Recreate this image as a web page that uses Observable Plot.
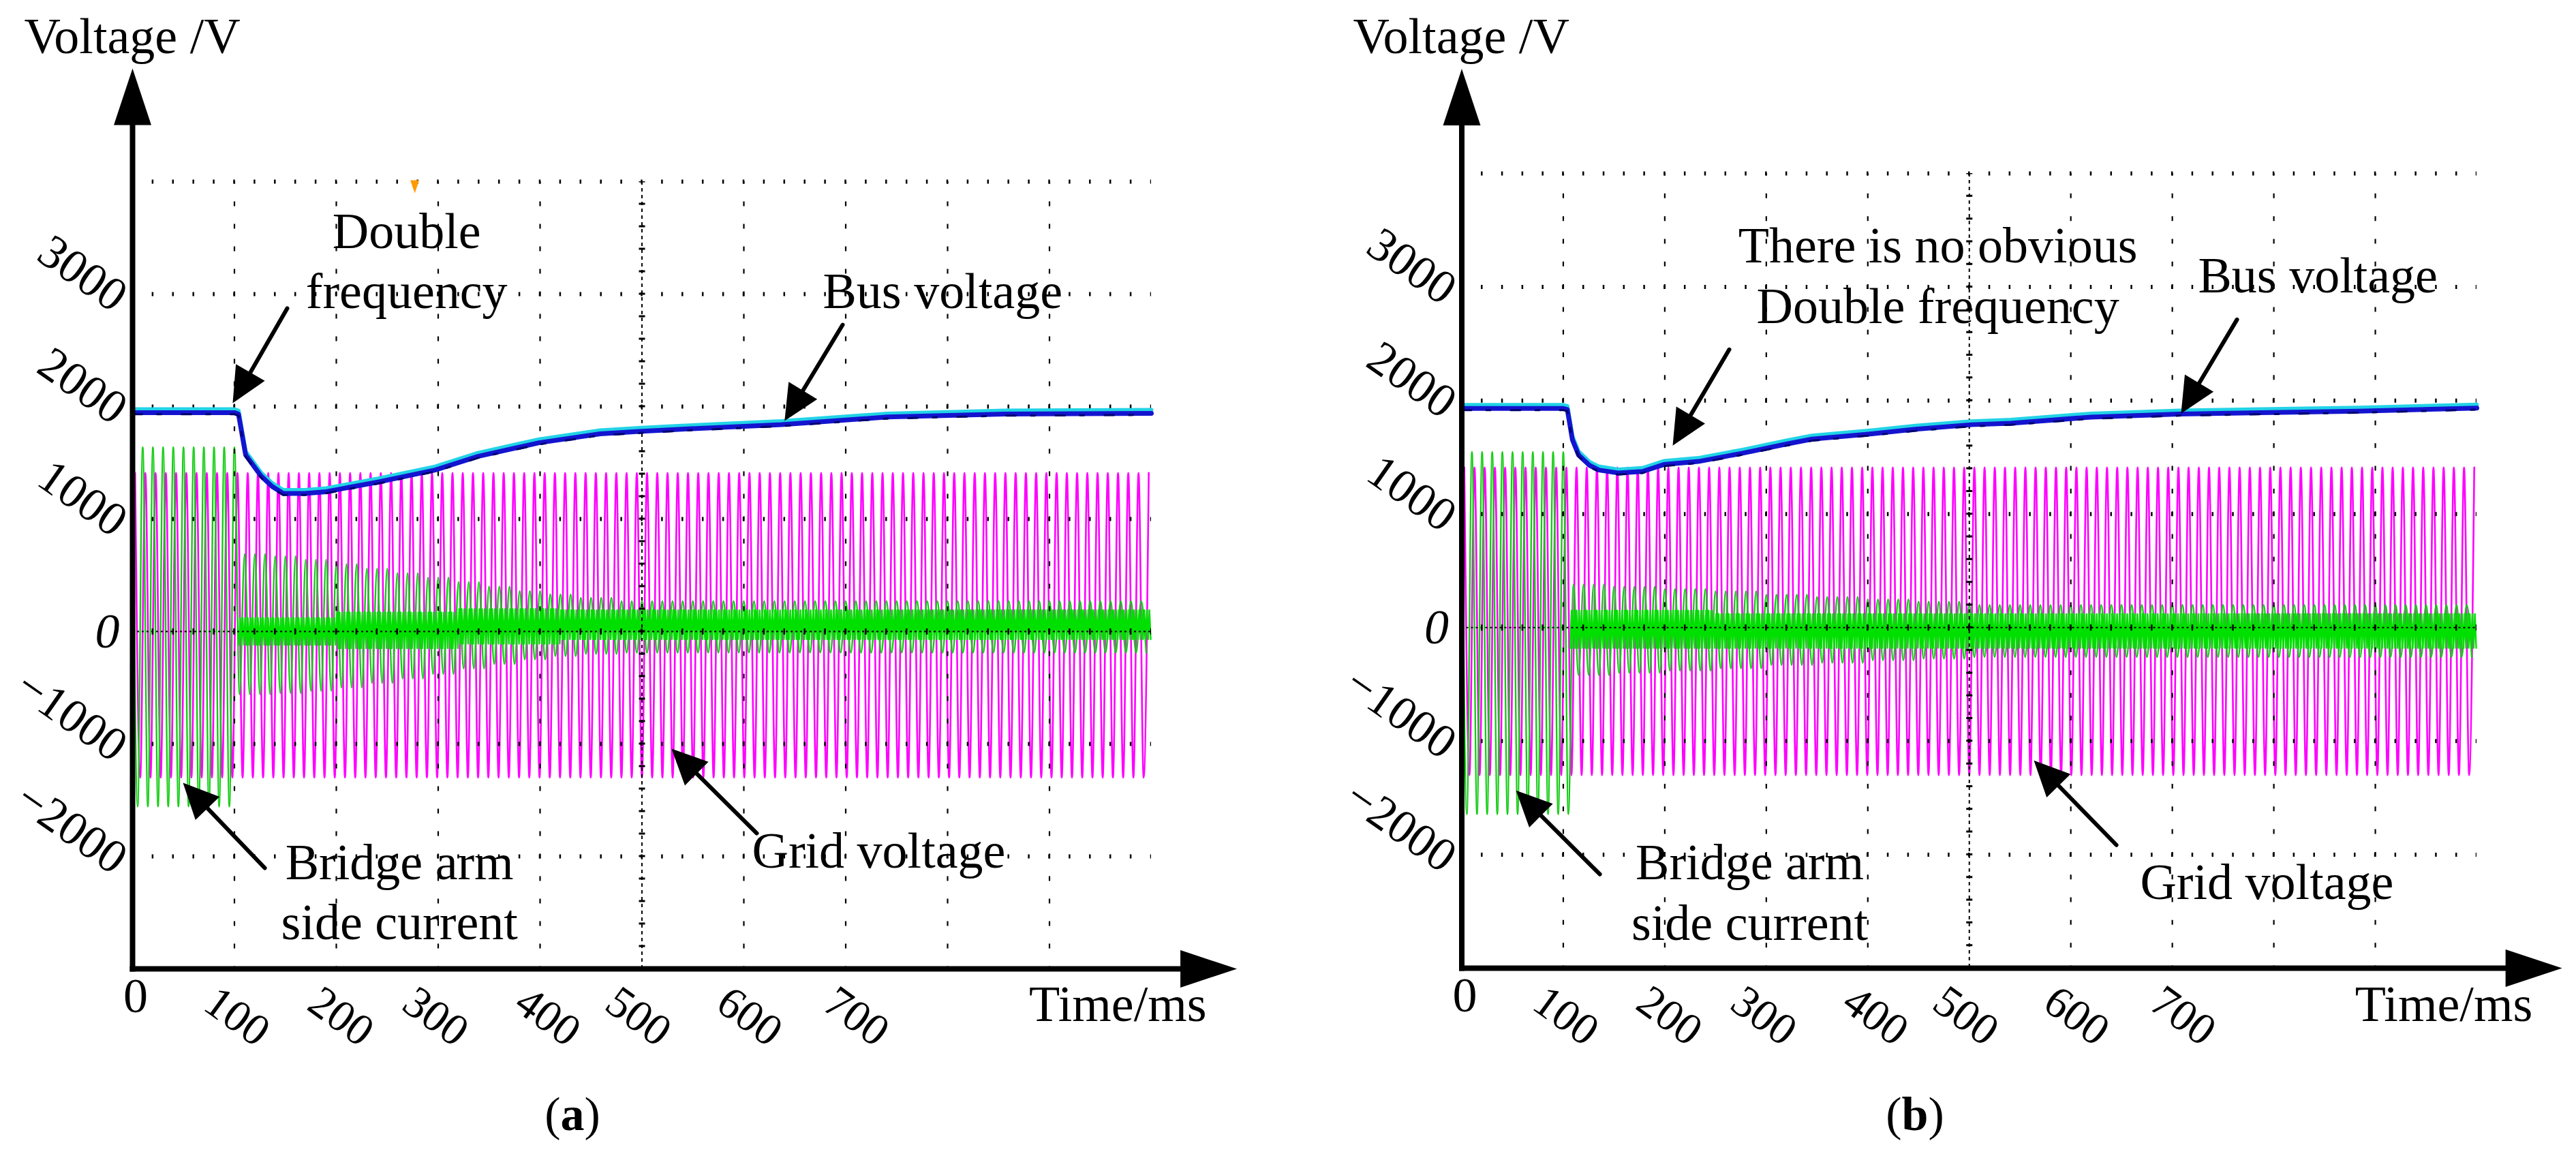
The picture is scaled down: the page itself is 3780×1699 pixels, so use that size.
<!DOCTYPE html>
<html><head><meta charset="utf-8">
<script src="https://cdn.jsdelivr.net/npm/d3@7"></script>
<script src="https://cdn.jsdelivr.net/npm/@observablehq/plot@0.6"></script>
<style>
body{margin:0;background:#fff;}
#row{display:flex;width:3780px;height:1699px;}
.panel{width:1890px;height:1699px;position:relative;}
.cap{position:absolute;top:1590px;font-family:"Liberation Serif",serif;font-size:70px;line-height:90px;transform:translateX(-50%);white-space:nowrap;color:#000;}
</style></head><body>
<div id="row"><div class="panel" id="pa"></div><div class="panel" id="pb"></div></div>
<script>
// ---------------- data ----------------
const timeDomain = [0, 1000];          // ms, 10 screen divisions
const voltDomain = [-3000, 4000];      // V, 7 screen divisions
const gridTimes = [100, 200, 300, 400, 600, 700, 800, 900];
const centerTime = [500];
const gridVolts = [4000, 3000, 2000, 1000, -1000, -2000];
const centerVolt = [0];
const yTickValues = [3000, 2000, 1000, -1000, -2000];
const yTickLabels = ["3000", "2000", "1000", "−1000", "−2000"];
const xTickLabels = ["100", "200", "300", "400", "500", "600", "700"];
const xTickAt = [86, 188, 281, 391, 480, 589, 694];

const gridVoltagePeriod = 10.05;
const gridVoltageSegs = [[0, 1000, 1410, -1300]];

// bus voltage (a)
const busA_t = [0, 100, 104, 111, 126, 137, 148, 169, 190, 241, 297, 339, 399, 459, 500, 539, 637, 741, 856, 1000];
const busA_v = [1946, 1946, 1933, 1570, 1383, 1289, 1227, 1227, 1243, 1329, 1436, 1557, 1678, 1758, 1780, 1799, 1840, 1907, 1933, 1940];
// bus voltage (b)
const busB_t = [0, 100, 104, 109, 115, 126, 135, 154, 178, 199, 233, 276, 319, 345, 404, 447, 502, 541, 620, 707, 884, 1000];
const busB_v = [1930, 1930, 1920, 1654, 1521, 1428, 1388, 1362, 1375, 1436, 1463, 1535, 1615, 1660, 1707, 1747, 1787, 1800, 1854, 1881, 1907, 1934];

// bridge arm side current (green): [from ms, to ms, upper peak, lower peak]
const currentPeriod = 10.0;
const currentA_segs = [[0,104,1640,-1557],[104,140,690,-560],[140,170,670,-550],[170,200,640,-530],[200,230,600,-500],[230,260,560,-460],[260,290,520,-420],[290,320,480,-380],[320,350,440,-330],[350,380,400,-290],[380,410,360,-250],[410,440,330,-220],[440,480,300,-200],[480,1000,270,-190]];
const currentA_core = [[104,200,120,-120],[200,320,170,-150],[320,420,200,-110],[420,1000,190,-70]];
const currentB_segs = [[0,106,1548,-1644],[106,150,378,-420],[150,200,360,-400],[200,250,340,-380],[250,300,320,-360],[300,350,290,-330],[350,400,270,-310],[400,450,250,-290],[450,500,230,-275],[500,1000,200,-260]];
const currentB_core = [[106,250,150,-180],[250,1000,120,-180]];
const ripplePeriod = 2.5;

// annotations
const annotA = [
  {text: "Double\nfrequency", t: 269, v: 2873, anchor: "middle"},
  {text: "Bus voltage", t: 677.6, v: 2873, anchor: "start"},
  {text: "Grid voltage", t: 608, v: -2097, anchor: "start"},
  {text: "Bridge arm\nside current", t: 262, v: -2739, anchor: "middle"}
];
const arrowsA = [[151.8, 2873, 98.3, 2030], [697, 2727, 640, 1873], [612.7, -1794, 529, -1042], [129.8, -2103, 49.5, -1345]];
const annotB = [
  {text: "There is no obvious\nDouble frequency", t: 469, v: 2683, anchor: "middle"},
  {text: "Bus voltage", t: 725.4, v: 2953, anchor: "start"},
  {text: "Grid voltage", t: 668.3, v: -2389, anchor: "start"},
  {text: "Bridge arm\nside current", t: 283.7, v: -2749, anchor: "middle"}
];
const arrowsB = [[263.5, 2449, 207.8, 1603], [763.7, 2713, 708.6, 1885], [644.9, -1915, 563.6, -1170], [136, -2173, 53.4, -1435]];
const triggerA = [277, 4060, 277, 3897];

// ---------------- drawing ----------------
const W = 1890, H = 1590;
const FONT = "Liberation Serif";

function carrier(segs, period, phase) {
  const pts = [];
  for (let k = 0; ; k++) {
    const t = phase + k * period / 2;
    if (t > 1000) break;
    const s = segs.find(s => t >= s[0] && t < s[1]);
    if (!s) continue;
    pts.push({t, v: k % 2 === 0 ? s[2] : s[3]});
  }
  return pts;
}

function build(el, cfg) {
  const {mL, mR, mT, mB} = cfg;
  const xs = d3.scaleLinear(timeDomain, [mL, W - mR]);
  const ys = d3.scaleLinear(voltDomain, [H - mB, mT]);
  const stepX = (W - mL - mR) / 50;
  const stepY = (H - mT - mB) / 35;
  let hid = 0;
  function arrow(store, shafts, a, L, Wd, frac) {
    const [t1, v1, t2, v2] = a;
    const x1 = xs(t1), y1 = ys(v1), x2 = xs(t2), y2 = ys(v2);
    const len = Math.hypot(x2 - x1, y2 - y1), ux = (x2 - x1) / len, uy = (y2 - y1) / len;
    const bx = x2 - ux * L, by = y2 - uy * L;
    const id = hid++;
    for (const [px, py] of [[x2, y2], [bx - uy * Wd / 2, by + ux * Wd / 2], [bx + uy * Wd / 2, by - ux * Wd / 2]])
      store.push({id, t: xs.invert(px), v: ys.invert(py)});
    if (shafts) shafts.push({t1, v1, t2: xs.invert(x2 - ux * L * frac), v2: ys.invert(y2 - uy * L * frac)});
  }
  const heads = [], shafts = [], axisShafts = [], orange = [];
  cfg.arrows.forEach(a => arrow(heads, shafts, a, 52, 49, 0.6));
  arrow(heads, axisShafts, [0, -3000, 0, cfg.yTip], 83, 55, 0.5);
  arrow(heads, axisShafts, [0, -3000, 1084, -3000], 83, 55, 0.5);
  if (cfg.trigger) arrow(orange, null, cfg.trigger, 19, 13, 0);

  const bus = cfg.bus_t.map((t, i) => ({t, v: cfg.bus_v[i]}));
  const magenta = carrier(gridVoltageSegs, gridVoltagePeriod, 2.5);
  const greenMain = carrier(cfg.segs, currentPeriod, 0);
  const greenRipple = carrier(cfg.core, ripplePeriod, 0.6);

  const txt = {fontFamily: FONT, fontSize: 74, lineHeight: 1.2, lineAnchor: "bottom", fill: "#000"};
  const plot = Plot.plot({
    width: W, height: H, marginLeft: mL, marginRight: mR, marginTop: mT, marginBottom: mB,
    x: {domain: timeDomain, axis: null},
    y: {domain: voltDomain, axis: null},
    style: {fontFamily: FONT, background: "white", overflow: "visible"},
    marks: [
      Plot.line(magenta, {x: "t", y: "v", stroke: "#ff00ff", strokeWidth: 2.6, curve: "monotone-x"}),
      Plot.line(greenMain, {x: "t", y: "v", stroke: "#10cc10", strokeWidth: 2.4, curve: "monotone-x"}),
      Plot.line(greenRipple, {x: "t", y: "v", stroke: "#00e000", strokeWidth: 2.4}),
      // graticule
      Plot.ruleY(gridVolts, {y: d => d, x1: timeDomain[0], x2: timeDomain[1], stroke: "#000", strokeWidth: 6, strokeDasharray: `2.5 ${stepX - 2.5}`, strokeDashoffset: 1.25}),
      Plot.ruleX(gridTimes, {x: d => d, y1: voltDomain[1], y2: voltDomain[0], stroke: "#000", strokeWidth: 2.2, strokeDasharray: `7 ${stepY - 7}`, strokeDashoffset: 3.5}),
      Plot.ruleX(centerTime, {x: d => d, y1: voltDomain[1], y2: voltDomain[0], stroke: "#000", strokeWidth: 2, strokeDasharray: "5 5"}),
      Plot.ruleX(centerTime, {x: d => d, y1: voltDomain[1], y2: voltDomain[0], stroke: "#000", strokeWidth: 9, strokeDasharray: `3 ${stepY - 3}`, strokeDashoffset: 1.5}),
      Plot.ruleY(centerVolt, {y: d => d, x1: timeDomain[0], x2: timeDomain[1], stroke: "#000", strokeWidth: 2, strokeDasharray: "3 4"}),
      Plot.ruleY(centerVolt, {y: d => d, x1: timeDomain[0], x2: timeDomain[1], stroke: "#000", strokeWidth: 9, strokeDasharray: `2.5 ${stepX - 2.5}`, strokeDashoffset: 1.25}),
      // bus voltage
      Plot.line(bus, {x: "t", y: d => d.v + 30, stroke: "#22d3e6", strokeWidth: 6}),
      Plot.line(bus, {x: "t", y: "v", stroke: "#1414cf", strokeWidth: 7}),
      Plot.line(bus, {x: "t", y: d => d.v - 14, stroke: "#00006e", strokeWidth: 3, strokeDasharray: "14 22 6 30"}),
      // trigger marker
      Plot.line(orange, {x: "t", y: "v", z: "id", fill: "#ff9a00", stroke: "none"}),
      // axes
      Plot.link(axisShafts, {x1: "t1", y1: "v1", x2: "t2", y2: "v2", stroke: "#000", strokeWidth: 8, strokeLinecap: "square"}),
      Plot.link(shafts, {x1: "t1", y1: "v1", x2: "t2", y2: "v2", stroke: "#000", strokeWidth: 6, strokeLinecap: "round"}),
      Plot.line(heads, {x: "t", y: "v", z: "id", fill: "#000", stroke: "none"}),
      // tick labels
      Plot.text(yTickValues, {x: 0, y: d => d, text: (d, i) => yTickLabels[i], textAnchor: "end", lineAnchor: "middle", rotate: 35, dx: -16, dy: 10, fontSize: 70, fontFamily: FONT}),
      Plot.text(["0"], {x: 0, y: 0, text: d => d, textAnchor: "end", lineAnchor: "middle", dx: -19, fontSize: 72, fontStyle: "italic", fontFamily: FONT}),
      Plot.text(xTickLabels, {x: (d, i) => xTickAt[i], y: voltDomain[0], text: d => d, textAnchor: "start", lineAnchor: "top", rotate: 36, dy: 20, fontSize: 66, fontFamily: FONT}),
      Plot.text(["0"], {x: 3, y: voltDomain[0], text: d => d, textAnchor: "middle", lineAnchor: "top", dy: 12, fontSize: 72, fontFamily: FONT}),
      // axis titles
      Plot.text(["Voltage /V"], {x: cfg.vLabel[0], y: cfg.vLabel[1], text: d => d, textAnchor: "start", ...txt}),
      Plot.text(["Time/ms"], {x: 880, y: cfg.tLabelV, text: d => d, textAnchor: "start", ...txt}),
      // annotations
      Plot.text(cfg.annot.filter(d => d.anchor === "middle"), {x: "t", y: "v", text: "text", textAnchor: "middle", ...txt}),
      Plot.text(cfg.annot.filter(d => d.anchor === "start"), {x: "t", y: "v", text: "text", textAnchor: "start", ...txt})
    ]
  });
  el.appendChild(plot);
  const cap = document.createElement("div");
  cap.className = "cap";
  cap.style.left = cfg.capX + "px";
  cap.innerHTML = `(<b>${cfg.cap}</b>)`;
  el.appendChild(cap);
}

build(document.getElementById("pa"), {
  mL: 194, mR: 201, mT: 266, mB: 169, yTip: 5006,
  bus_t: busA_t, bus_v: busA_v, segs: currentA_segs, core: currentA_core,
  annot: annotA, arrows: arrowsA, trigger: triggerA,
  vLabel: [-106.4, 5145], tLabelV: -3461, cap: "a", capX: 840
});
build(document.getElementById("pb"), {
  mL: 254.5, mR: 146, mT: 254, mB: 170, yTip: 4922,
  bus_t: busB_t, bus_v: busB_v, segs: currentB_segs, core: currentB_core,
  annot: annotB, arrows: arrowsB, trigger: null,
  vLabel: [-107, 5060], tLabelV: -3463, cap: "b", capX: 920
});
</script>
</body></html>
